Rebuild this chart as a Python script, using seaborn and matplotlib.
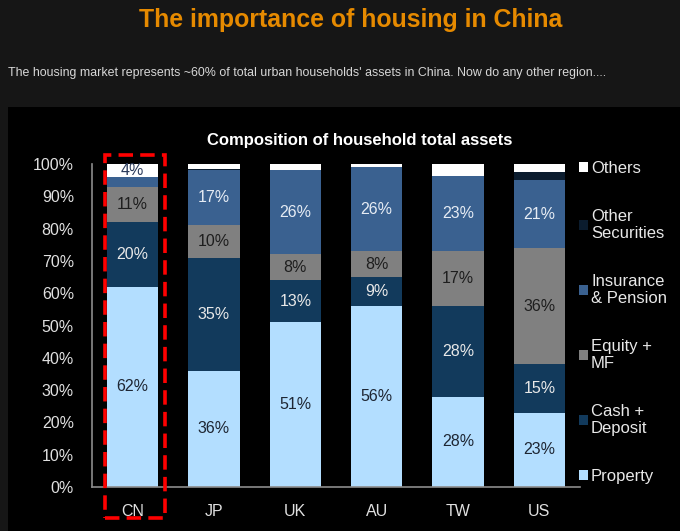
import numpy as np
import pandas as pd
import seaborn as sns
import matplotlib.pyplot as plt
from matplotlib.patches import Patch, Rectangle

# Data (percent of household total assets)
regions = ['CN', 'JP', 'UK', 'AU', 'TW', 'US']
property_ = [62, 36, 51, 56, 28, 23]
cash = [20, 35, 13, 9, 28, 15]
equity = [11, 10, 8, 8, 17, 36]
insurance = [3, 17, 26, 26, 23.4, 21]
other_sec = [0, 0.5, 0, 0, 0, 2.5]
others = [4, 1.5, 2, 1, 3.6, 2.5]

series = ['Property', 'Cash +\nDeposit', 'Equity +\nMF', 'Insurance\n& Pension',
          'Other\nSecurities', 'Others']
values = [property_, cash, equity, insurance, other_sec, others]
colors = ['#B3DEFF', '#123A5C', '#808080', '#3A6190', '#0B1C2E', '#FFFFFF']
label_colors = ['#1E2633', '#E8E8E8', '#1E1E1E', '#E6ECF4', '#E8E8E8', '#2A3A5A']

sns.set_style('dark')
plt.rcParams['font.family'] = ['Liberation Sans', 'DejaVu Sans']

fig = plt.figure(figsize=(6.8, 5.31), dpi=100, facecolor='#161616')
# black chart panel
fig.patches.append(Rectangle((8 / 680, 0), 1, 1 - 107 / 531, transform=fig.transFigure,
                             facecolor='black', edgecolor='none', zorder=-10))

ax = fig.add_axes([92 / 680, 1 - 487 / 531, 488 / 680, 323 / 531])
ax.set_facecolor('black')

df = pd.DataFrame(np.array(values).T, index=regions, columns=series)
cum = df.cumsum(axis=1)

# draw from the top segment down so lower segments cover the upper ones
for i in range(len(series) - 1, -1, -1):
    sns.barplot(x=regions, y=cum.iloc[:, i].values, color=colors[i], saturation=1,
                width=0.63, errorbar=None, ax=ax, linewidth=0)

# segment labels
for j, r in enumerate(regions):
    base = 0
    for i, s in enumerate(series):
        v = df.loc[r, s]
        if v >= 4:
            ax.text(j, base + v / 2, f'{v:.0f}%', ha='center', va='center',
                    fontsize=11.5, color=label_colors[i])
        base += v

ax.set_xlim(-0.5, 5.5)
ax.set_ylim(0, 100)
ax.set_yticks(range(0, 101, 10))
ax.set_yticklabels([f'{t}%' for t in range(0, 101, 10)])
ax.set_xticks(range(len(regions)), regions)
ax.set_xticks(np.arange(-0.5, 6, 1), minor=True)
ax.tick_params(axis='x', which='major', length=0, pad=12, labelsize=11.5, colors='#E0E0E0')
ax.tick_params(axis='x', which='minor', length=5, width=1.2, color='#8C8C8C', direction='out')
ax.tick_params(axis='y', length=5, width=1.2, color='#8C8C8C', direction='out',
               labelsize=11.5, labelcolor='#E0E0E0', pad=8)
ax.set_xlabel('')
ax.set_ylabel('')
ax.grid(False)
for side in ['top', 'right']:
    ax.spines[side].set_visible(False)
for side in ['left', 'bottom']:
    ax.spines[side].set_visible(True)
    ax.spines[side].set_color('#8C8C8C')
    ax.spines[side].set_linewidth(1.2)

# red dashed box around China
ax.add_patch(Rectangle((-0.34, -9.6), 0.74, 112.4, fill=False, edgecolor='#FF0000',
                       linewidth=2.6, linestyle=(0, (4, 2)), clip_on=False, zorder=5))

# legend (top to bottom: Others ... Property)
handles = [Patch(facecolor=colors[i], edgecolor='none') for i in range(len(series) - 1, -1, -1)]
labels = [series[i] for i in range(len(series) - 1, -1, -1)]
leg = ax.legend(handles, labels, loc='upper left', bbox_to_anchor=(0.98, 1.035),
                frameon=False, fontsize=12, labelcolor='#E8E8E8', handlelength=0.55,
                handleheight=0.55, handletextpad=0.2, labelspacing=1.96, borderpad=0)

fig.text(360 / 680, 1 - 140 / 531, 'Composition of household total assets', ha='center',
         va='center', fontsize=12, fontweight='bold', color='white')
fig.text(351 / 680, 1 - 20 / 531, 'The importance of housing in China', ha='center',
         va='center', fontsize=17.9, fontweight='bold', color='#E68A00')
fig.text(8 / 680, 1 - 73 / 531,
         "The housing market represents ~60% of total urban households' assets in China. "
         "Now do any other region....", ha='left', va='center', fontsize=8.9, color='#D8D8D8')

fig.savefig('out.png', dpi=100, facecolor=fig.get_facecolor())
